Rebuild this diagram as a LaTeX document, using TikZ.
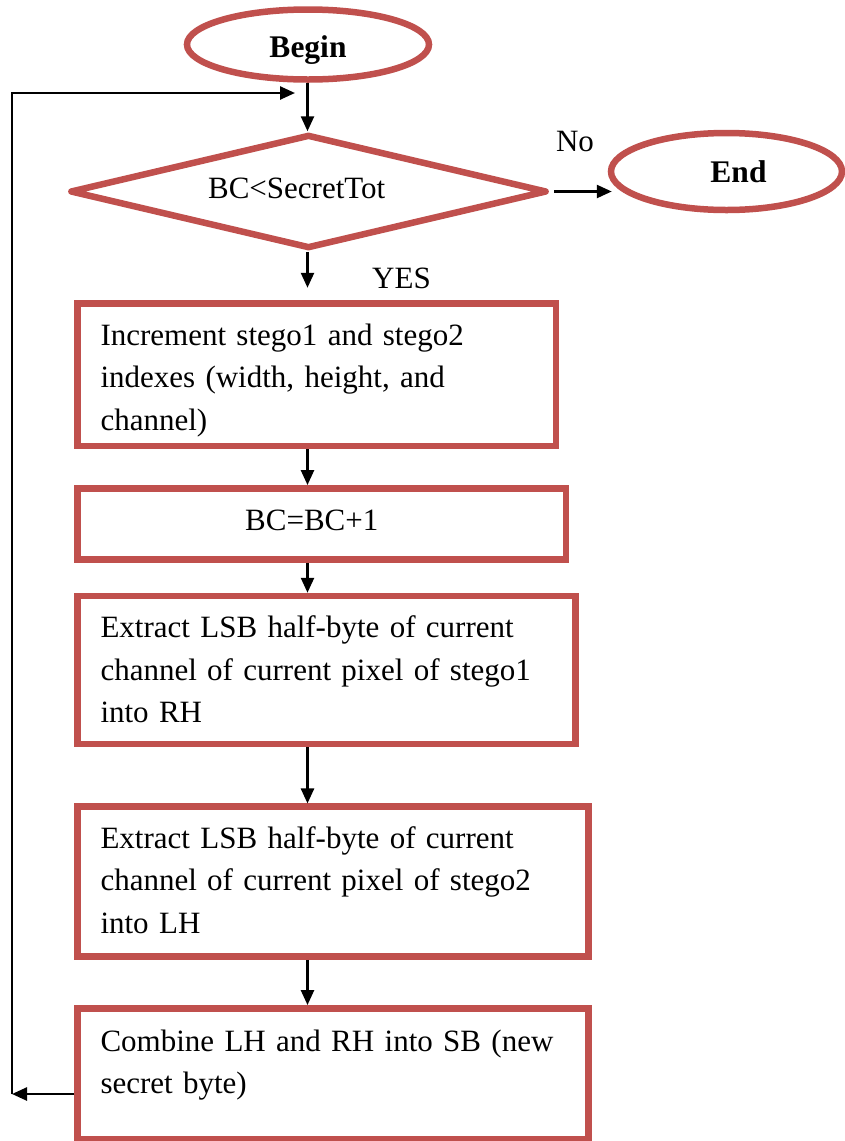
\documentclass[tikz,border=0pt]{standalone}
\usepackage{fontspec}
\setmainfont{Liberation Serif}
\usetikzlibrary{shapes.geometric,arrows.meta}
\definecolor{boxred}{HTML}{C0504D}
\begin{document}
\begin{tikzpicture}[x=1pt,y=-1pt,
  every node/.style={font=\fontsize{31}{42.5}\selectfont, inner sep=0pt},
  redline/.style={draw=boxred, line width=6.5pt},
  term/.style={redline, ellipse, font=\fontsize{31.5}{42.5}\selectfont\bfseries},
  decision/.style={redline, diamond, shape aspect=4, line join=round},
  procbox/.style={redline, rectangle, inner xsep=23pt, inner ysep=0pt, align=left},
  flow/.style={line width=2.5pt, -{Triangle[length=15pt,width=13pt]}},
]
\useasboundingbox (0,0) rectangle (845,1141);
\coordinate (spine) at (307.5,0);

% terminals and decision
\node[term, minimum width=242pt, minimum height=70pt, text height=31.6pt, text depth=6pt] (begin) at (308,44.5) {Begin};
\node[decision, minimum width=477pt, minimum height=114pt, text height=19pt, text depth=6pt] (cond) at (308.5,191.5) {BC<SecretTot\hspace*{23.6pt}};
\node[term, minimum width=231pt, minimum height=77pt, text height=27pt, text depth=6pt] (endnode) at (726.5,171.5) {\hspace*{24pt}End};

% process boxes
\node[procbox, minimum width=478.5pt, minimum height=142.3pt, text width=432.5pt, text height=31.3pt, text depth=91pt] (box1) at (316.75,374.85)
  {Increment stego1 and stego2\\indexes (width, height, and\\channel)};
\node[procbox, align=center, minimum width=488.5pt, minimum height=71pt, text height=19.8pt, text depth=6pt] (box2) at (321.75,523.8)
  {BC=BC+1\hspace*{20pt}};
\node[procbox, minimum width=498.2pt, minimum height=148pt, text width=452.2pt, text height=26.7pt, text depth=91pt] (box3) at (326.6,670)
  {Extract LSB half-byte of current\\channel of current pixel of stego1\\into RH};
\node[procbox, minimum width=510.8pt, minimum height=150pt, text width=464.8pt, text height=23.6pt, text depth=91pt] (box4) at (332.9,881.7)
  {Extract LSB half-byte of current\\channel of current pixel of stego2\\into LH};
\node[procbox, minimum width=510.8pt, minimum height=131.2pt, text width=464.8pt, text height=2.7pt, text depth=48.5pt] (box5) at (332.9,1073.9)
  {Combine LH and RH into SB (new\\secret byte)};

% labels
\node[anchor=base] (nolabel) at (575,151) {No};
\node[anchor=base] (yeslabel) at (401.5,288) {YES};

% connectors
\draw[flow] (begin.south -| spine) -- (cond.north -| spine);
\draw[flow, shorten <=4pt, shorten >=-4pt] (cond.east) -- (endnode.west |- cond.east);
\draw[flow, shorten >=12.7pt] (cond.south -| spine) -- (box1.north -| spine);
\draw[flow] (box1.south -| spine) -- (box2.north -| spine);
\draw[flow] (box2.south -| spine) -- (box3.north -| spine);
\draw[flow] (box3.south -| spine) -- (box4.north -| spine);
\draw[flow] (box4.south -| spine) -- (box5.north -| spine);

% loop back
\coordinate (lb) at (12,1094);
\coordinate (lt) at (12,93);
\coordinate (ltip) at (295,93);
\draw[flow] (box5.west |- lb) -- (lb);
\draw[flow] (lb) -- (lt) -- (ltip);
\end{tikzpicture}
\end{document}
